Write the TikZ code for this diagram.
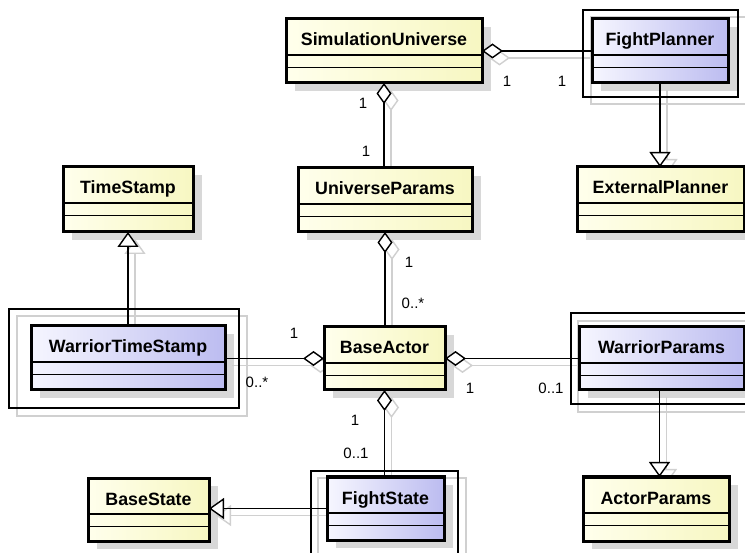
\documentclass[tikz,border=0pt]{standalone}
\usepackage{fontspec}
\setmainfont{Liberation Sans}
\usetikzlibrary{arrows.meta}
\definecolor{yelA}{HTML}{FFFFEC}
\definecolor{yelB}{HTML}{F7F7C2}
\definecolor{bluA}{HTML}{F6F6FF}
\definecolor{bluB}{HTML}{BCBCF0}
\definecolor{shadowgray}{HTML}{D8D8D8}
\definecolor{ghost}{HTML}{D0D0D0}
\tikzset{
  geom/.style={rectangle, inner sep=0pt, outer sep=0pt},
  yel/.style={left color=yelA, right color=yelB},
  blu/.style={left color=bluA, right color=bluB},
  compline/.style={line width=1.6pt, draw=black},
  boxborder/.style={line width=3pt, draw=black},
  classtitle/.style={font=\bfseries\fontsize{17.8}{20}\selectfont, anchor=base, inner sep=0pt},
  mult/.style={font=\fontsize{15}{17}\selectfont, inner sep=0pt},
  frame/.style={draw=black, line width=1.5pt},
  ghostframe/.style={draw=ghost, line width=1.5pt},
  boxshadow/.style={fill=shadowgray},
  conn/.style={line width=1.6pt},
  agg/.style={conn, {Diamond[fill=white, length=21pt, width=15pt, line width=1.4pt]}-},
  gen/.style={conn, -{Triangle[fill=white, length=15pt, width=21pt, line width=1.4pt]}},
}
\newcommand\umlnode[5]{%
  \node[geom, minimum width={(#4-#2)*1pt}, minimum height={(#5-#3)*1pt}] (#1) at ({(#2+#4)/2},{(#3+#5)/2}) {};
  \fill[boxshadow] ([shift={(9,8)}]#1.north west) rectangle ([shift={(9,8)}]#1.south east);
}
\newcommand\umlface[3]{%
  \path[#2] (#1.north west) rectangle (#1.south east);
  \draw[compline] ([yshift=-36pt]#1.north west) -- ([yshift=-36pt]#1.north east);
  \draw[compline] ([yshift=-48.5pt]#1.north west) -- ([yshift=-48.5pt]#1.north east);
  \draw[boxborder] (#1.north west) rectangle (#1.south east);
  \node[classtitle] (#1-t) at ([yshift=-27pt]#1.north) {#3};
}
\newcommand\allconnectors{%
  \draw[agg] (SU.east) -- (FP.west);
  \draw[agg] (SU.south) -- (SU.south |- UP.north);
  \draw[gen] (FP.south) -- (FP.south |- EP.north);
  \draw[gen] (WTS.north) -- (WTS.north |- TS.south);
  \draw[agg] (BA.west) -- (BA.west -| WTS.east);
  \draw[agg] (UP.south) -- (UP.south |- BA.north);
  \draw[agg] (BA.east) -- (BA.east -| WP.west);
  \draw[agg] (BA.south) -- (BA.south |- FS.north);
  \draw[gen] (FS.west) -- (FS.west -| BS.east);
  \draw[gen] ([xshift=-2pt]WP.south) -- ([xshift=-2pt]WP.south |- AP.north);
}
\begin{document}
\begin{tikzpicture}[x=1pt,y=-1pt]
  \useasboundingbox (0,0) rectangle (745,553);
  \clip (0,0) rectangle (745,553);
  \fill[white] (0,0) rectangle (745,553);

  % class geometry and drop shadows
  \umlnode{SU}{286}{19}{482}{83}
  \umlnode{FP}{592}{19}{728}{83}
  \umlnode{UP}{298}{168}{472}{232}
  \umlnode{EP}{577}{167}{744}{232}
  \umlnode{TS}{63}{167}{193}{232}
  \umlnode{WTS}{31}{326}{225}{390}
  \umlnode{BA}{324}{327}{445}{390}
  \umlnode{WP}{579}{327}{744}{390}
  \umlnode{BS}{88}{478}{209}{541}
  \umlnode{FS}{327}{477}{444}{540}
  \umlnode{AP}{583}{477}{729}{541}

  % ghost frames
  \draw[ghostframe] (591,17) rectangle (760,104);
  \draw[ghostframe] (17,316) rectangle (247,416);
  \draw[ghostframe] (578,321) rectangle (770,412);
  \draw[ghostframe] (318,478) rectangle (466,570);

  % ghost connectors
  \begin{scope}[transform canvas={shift={(7,7)}}, draw=ghost, color=ghost]
    \allconnectors
  \end{scope}

  % frames
  \draw[frame] (583,10) rectangle (738,97);
  \draw[frame] (9,309) rectangle (239,408);
  \draw[frame] (571,313) rectangle (760,404);
  \draw[frame] (311,471) rectangle (458,570);

  % connectors
  \allconnectors

  % class faces
  \umlface{SU}{yel}{SimulationUniverse}
  \umlface{FP}{blu}{FightPlanner}
  \umlface{UP}{yel}{UniverseParams}
  \umlface{EP}{yel}{ExternalPlanner}
  \umlface{TS}{yel}{TimeStamp}
  \umlface{WTS}{blu}{WarriorTimeStamp}
  \umlface{BA}{yel}{BaseActor}
  \umlface{WP}{blu}{WarriorParams}
  \umlface{BS}{yel}{BaseState}
  \umlface{FS}{blu}{FightState}
  \umlface{AP}{yel}{ActorParams}

  % multiplicities
  \node[mult] (m1) at (507,81) {1};
  \node[mult] (m2) at (562,81) {1};
  \node[mult] (m3) at (363,103) {1};
  \node[mult] (m4) at (366,151) {1};
  \node[mult] (m5) at (294,333) {1};
  \node[mult] (m6) at (257,382) {0..*};
  \node[mult] (m7) at (409,262) {1};
  \node[mult] (m8) at (413,303) {0..*};
  \node[mult] (m9) at (470,388) {1};
  \node[mult] (m10) at (551,388) {0..1};
  \node[mult] (m11) at (355,420) {1};
  \node[mult] (m12) at (356,453) {0..1};
\end{tikzpicture}
\end{document}
